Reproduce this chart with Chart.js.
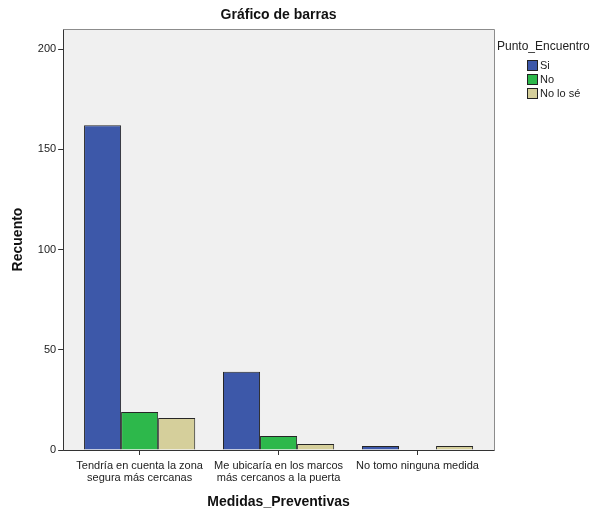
<!DOCTYPE html>
<html>
<head>
<meta charset="utf-8">
<script src="https://cdn.jsdelivr.net/npm/chart.js@4.4.1/dist/chart.umd.min.js"></script>
<style>
  body { margin: 0; background: #fff; }
  #wrap { position: relative; width: 607px; height: 511px; }
  #legend { position: absolute; left: 497px; top: 39px; font-family: "Liberation Sans", Arial, sans-serif; color: #222; }
  #legend .ttl { font-size: 12px; margin-bottom: 5px; }
  #legend .item { font-size: 11px; margin-left: 30px; height: 14px; line-height: 14px; display: flex; align-items: center; }
  #legend .box { width: 9px; height: 9px; border: 1px solid #222; margin-right: 2px; }
</style>
</head>
<body>
<div id="wrap">
  <canvas id="barChart" width="607" height="511"></canvas>
  <div id="legend"></div>
</div>
<script>
const categories = [
    ["Tendría en cuenta la zona", "segura más cercanas"],
    ["Me ubicaría en los marcos", "más cercanos a la puerta"],
    "No tomo ninguna medida"
];
const seriesNames = ["Si", "No", "No lo sé"];
const siValues = [162, 39, 2];
const noValues = [19, 7, 0];
const noLoSeValues = [16, 3, 2];
const seriesColors = ["#3d58a9", "#2db84b", "#d5cf9b"];
const yTicks = [0, 50, 100, 150, 200];

const font = "'Liberation Sans', Arial, sans-serif";
const sideGap = 7; // empty strip between the axes and the outer categories

// plot background, frame, axis lines and the title centred over the plot
const plotFrame = {
    id: "plotFrame",
    beforeDatasetsDraw(chart) {
        const a = chart.chartArea, ctx = chart.ctx;
        const l = Math.round(a.left - sideGap) + 0.5, r = Math.round(a.right + sideGap) + 0.5;
        const t = Math.round(a.top) + 0.5, b = Math.round(a.bottom) + 0.5;
        ctx.save();
        ctx.fillStyle = "#f0f0f0";
        ctx.fillRect(l, t, r - l, b - t);
        ctx.strokeStyle = "#8c8c8c";
        ctx.lineWidth = 1;
        ctx.beginPath();
        ctx.moveTo(l, t); ctx.lineTo(r, t); ctx.lineTo(r, b);
        ctx.stroke();
        ctx.strokeStyle = "#333";
        ctx.beginPath();
        ctx.moveTo(l, t); ctx.lineTo(l, b); ctx.lineTo(r, b);
        ctx.stroke();
        ctx.restore();
    },
    afterDraw(chart) {
        const a = chart.chartArea, ctx = chart.ctx;
        ctx.save();
        ctx.fillStyle = "#111";
        ctx.font = "bold 14px " + font;
        ctx.textAlign = "center";
        ctx.textBaseline = "middle";
        ctx.fillText("Gráfico de barras", (a.left + a.right) / 2, 15);
        ctx.restore();
    }
};

const ctx = document.getElementById("barChart").getContext("2d");
new Chart(ctx, {
    type: "bar",
    data: {
        labels: categories,
        datasets: [siValues, noValues, noLoSeValues].map((d, i) => ({
            label: seriesNames[i],
            data: d,
            backgroundColor: seriesColors[i],
            borderColor: "#262626",
            borderWidth: 1,
            barPercentage: 1,
            categoryPercentage: 0.8
        }))
    },
    options: {
        responsive: false,
        animation: false,
        layout: { padding: { top: 29, right: 120, left: 6, bottom: 0 } },
        plugins: {
            legend: { display: false },
            tooltip: { enabled: false }
        },
        scales: {
            x: {
                grid: { offset: false, drawOnChartArea: false, drawTicks: true, tickLength: 5, color: "#333" },
                border: { display: false },
                ticks: { color: "#222", font: { family: font, size: 11, lineHeight: 1.1 }, maxRotation: 0, autoSkip: false, padding: 5 },
                title: { display: true, text: "Medidas_Preventivas", color: "#111", font: { family: font, size: 14, weight: "bold" }, padding: { top: 5, bottom: 0 } }
            },
            y: {
                min: 0,
                max: 210,
                afterBuildTicks: scale => { scale.ticks = yTicks.map(v => ({ value: v })); },
                grid: { drawOnChartArea: false, drawTicks: true, tickLength: 12, color: "#333" },
                border: { display: false },
                ticks: { color: "#222", font: { family: font, size: 11 }, padding: 2 },
                title: { display: true, text: "Recuento", color: "#111", font: { family: font, size: 14, weight: "bold" }, padding: { bottom: 9 } }
            }
        }
    },
    plugins: [plotFrame]
});

// legend built from the series arrays
const legend = document.getElementById("legend");
legend.innerHTML = '<div class="ttl">Punto_Encuentro</div>' +
    seriesNames.map((n, i) => '<div class="item"><span class="box" style="background:' + seriesColors[i] + '"></span>' + n + '</div>').join("");
</script>
</body>
</html>
